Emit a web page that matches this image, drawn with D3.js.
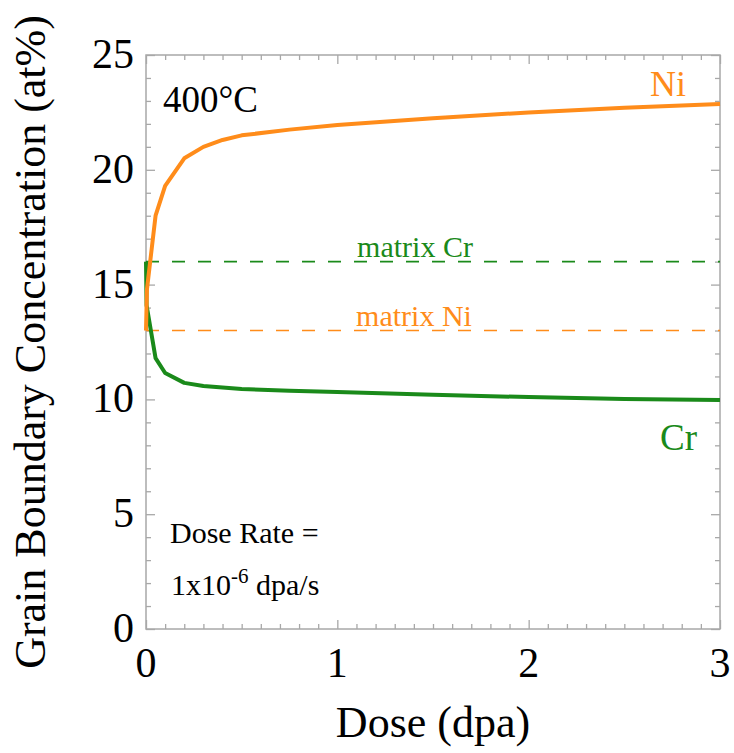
<!DOCTYPE html>
<html>
<head>
<meta charset="utf-8">
<script src="https://cdn.jsdelivr.net/npm/d3@7"></script>
<style>
  html, body { margin: 0; padding: 0; background: #fff; }
  svg text { font-family: "Liberation Serif", "Times New Roman", serif; }
</style>
</head>
<body>
<svg id="chart" width="734" height="753"></svg>
<script>
// Grain boundary composition vs. dose at 400°C
const doseNi = [0, 0.005, 0.05, 0.1, 0.2, 0.3, 0.4, 0.5, 0.75, 1, 1.5, 2, 2.5, 3];
const concNi = [13, 14.8, 18.0, 19.3, 20.5, 21.0, 21.3, 21.5, 21.75, 21.95, 22.25, 22.5, 22.7, 22.87];
const doseCr = [0, 0.003, 0.05, 0.1, 0.2, 0.3, 0.5, 0.75, 1, 1.5, 2, 2.5, 3];
const concCr = [16, 14.1, 11.8, 11.15, 10.72, 10.58, 10.45, 10.38, 10.32, 10.2, 10.1, 10.02, 9.97];
const matrixCr = 16;
const matrixNi = 13;
const xTicks = [0, 1, 2, 3];
const yTicks = [0, 5, 10, 15, 20, 25];

const orange = "#ff8c1a";
const green = "#1a8a1a";

const svg = d3.select("#chart");
const x = d3.scaleLinear().domain([0, 3]).range([146, 720]);
const y = d3.scaleLinear().domain([0, 25]).range([629, 55]);

const xMinor = d3.range(0, 30.5, 1).map(d => d / 10).filter(d => !xTicks.includes(d));
const yMinor = d3.range(0, 26, 1).filter(d => !yTicks.includes(d));

// inward-pointing ticks on all four sides
function tickGroup(axis, transform) {
  const g = svg.append("g").attr("transform", transform).call(axis);
  g.select(".domain").remove();
  g.selectAll("line").attr("stroke", "#a8a8a8").attr("stroke-width", 1.3);
  return g;
}
const fmt = "";
tickGroup(d3.axisBottom(x).tickValues(xTicks).tickSize(-9).tickFormat(""), `translate(0,${y(0)})`);
tickGroup(d3.axisBottom(x).tickValues(xMinor).tickSize(-5).tickFormat(""), `translate(0,${y(0)})`);
tickGroup(d3.axisTop(x).tickValues(xTicks).tickSize(-9).tickFormat(""), `translate(0,${y(25)})`);
tickGroup(d3.axisTop(x).tickValues(xMinor).tickSize(-5).tickFormat(""), `translate(0,${y(25)})`);
tickGroup(d3.axisLeft(y).tickValues(yTicks).tickSize(-9).tickFormat(""), `translate(${x(0)},0)`);
tickGroup(d3.axisLeft(y).tickValues(yMinor).tickSize(-5).tickFormat(""), `translate(${x(0)},0)`);
tickGroup(d3.axisRight(y).tickValues(yTicks).tickSize(-9).tickFormat(""), `translate(${x(3)},0)`);
tickGroup(d3.axisRight(y).tickValues(yMinor).tickSize(-5).tickFormat(""), `translate(${x(3)},0)`);

// frame
svg.append("rect")
  .attr("x", x(0)).attr("y", y(25))
  .attr("width", x(3) - x(0)).attr("height", y(0) - y(25))
  .attr("fill", "none").attr("stroke", "#a8a8a8").attr("stroke-width", 1.5);

// tick labels
svg.append("g").selectAll("text").data(xTicks).join("text")
  .attr("x", d => x(d)).attr("y", 677)
  .attr("text-anchor", "middle").attr("font-size", 42).attr("fill", "#000")
  .text(d => d);
svg.append("g").selectAll("text").data(yTicks).join("text")
  .attr("x", 134).attr("y", d => y(d) + 13)
  .attr("text-anchor", "end").attr("font-size", 42).attr("fill", "#000")
  .text(d => d);

// axis titles
svg.append("text")
  .attr("x", (x(0) + x(3)) / 2).attr("y", 737)
  .attr("text-anchor", "middle").attr("font-size", 44)
  .text("Dose (dpa)");
svg.append("text")
  .attr("transform", `translate(45,${(y(0) + y(25)) / 2}) rotate(-90)`)
  .attr("text-anchor", "middle").attr("font-size", 44)
  .text("Grain Boundary Concentration (at%)");

// matrix reference levels
svg.append("line")
  .attr("x1", x(0)).attr("x2", x(3)).attr("y1", y(matrixCr)).attr("y2", y(matrixCr))
  .attr("stroke", green).attr("stroke-width", 1.6).attr("stroke-dasharray", "13,13");
svg.append("line")
  .attr("x1", x(0)).attr("x2", x(3)).attr("y1", y(matrixNi)).attr("y2", y(matrixNi))
  .attr("stroke", orange).attr("stroke-width", 1.6).attr("stroke-dasharray", "13,13");
svg.append("text")
  .attr("x", 415).attr("y", y(matrixCr) - 5)
  .attr("text-anchor", "middle").attr("font-size", 30).attr("fill", green)
  .text("matrix Cr");
svg.append("text")
  .attr("x", 414).attr("y", y(matrixNi) - 5)
  .attr("text-anchor", "middle").attr("font-size", 30).attr("fill", orange)
  .text("matrix Ni");

// concentration curves
const line = d3.line().x(d => x(d[0])).y(d => y(d[1]));
svg.append("path")
  .datum(d3.zip(doseCr, concCr))
  .attr("d", line).attr("fill", "none")
  .attr("stroke", green).attr("stroke-width", 4).attr("stroke-linejoin", "round");
svg.append("path")
  .datum(d3.zip(doseNi, concNi))
  .attr("d", line).attr("fill", "none")
  .attr("stroke", orange).attr("stroke-width", 4).attr("stroke-linejoin", "round");

// annotations
svg.append("text").attr("x", 163).attr("y", 112).attr("font-size", 37).text("400°C");
svg.append("text").attr("x", 686).attr("y", 96).attr("text-anchor", "end")
  .attr("font-size", 36).attr("fill", orange).text("Ni");
svg.append("text").attr("x", 697).attr("y", 450).attr("text-anchor", "end")
  .attr("font-size", 37).attr("fill", green).text("Cr");
svg.append("text").attr("x", 170).attr("y", 543).attr("font-size", 30).text("Dose Rate =");
const rate = svg.append("text").attr("x", 171).attr("y", 595).attr("font-size", 30);
rate.append("tspan").text("1x10");
rate.append("tspan").attr("dy", -12).attr("font-size", 21).text("-6");
rate.append("tspan").attr("dy", 12).text(" dpa/s");
</script>
</body>
</html>
